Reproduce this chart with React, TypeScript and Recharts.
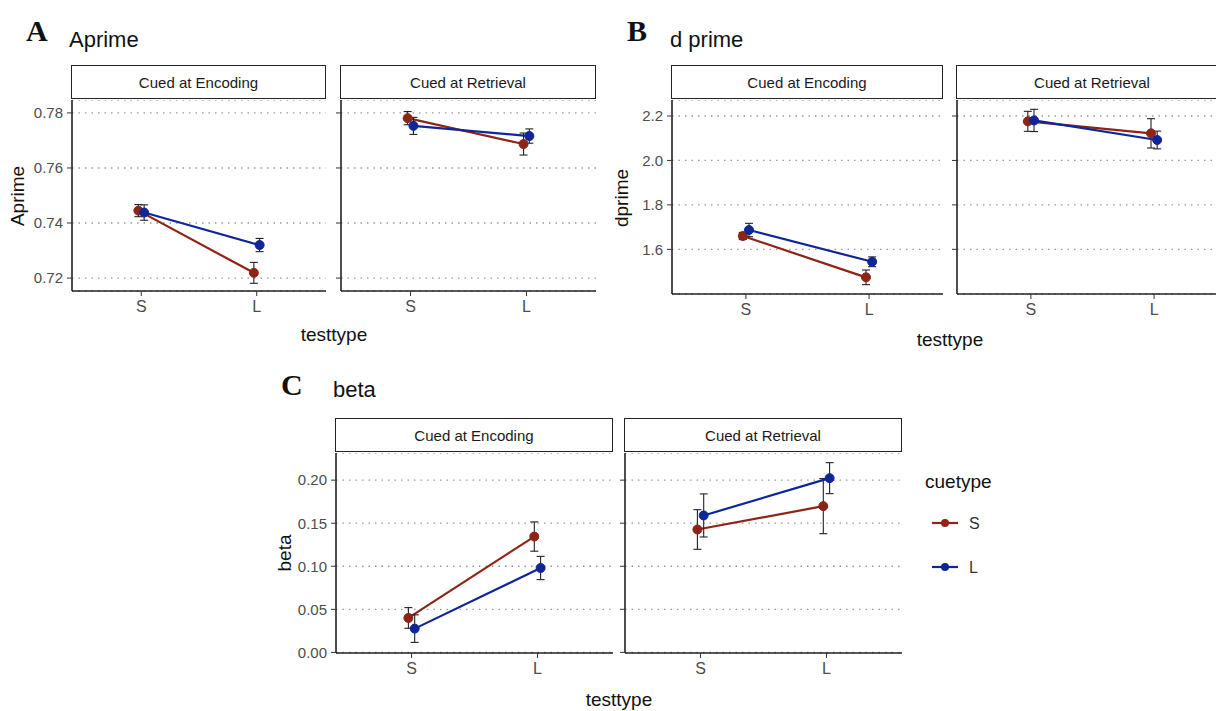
import { LineChart, Line, XAxis, YAxis, CartesianGrid, ErrorBar } from "recharts";

const testtypes = ["S", "L"];
const facetNames = ["Cued at Encoding", "Cued at Retrieval"];
const cuetypes = ["S", "L"];

// A: Aprime
const aprimeTicks = [0.72, 0.74, 0.76, 0.78];
const aprimeEncS = [0.7445, 0.7219];
const aprimeEncSErr = [0.0022, 0.0038];
const aprimeEncL = [0.7438, 0.732];
const aprimeEncLErr = [0.0028, 0.0024];
const aprimeRetS = [0.7781, 0.7687];
const aprimeRetSErr = [0.0024, 0.004];
const aprimeRetL = [0.7753, 0.7716];
const aprimeRetLErr = [0.0031, 0.0026];

// B: d prime
const dprimeTicks = [1.6, 1.8, 2.0, 2.2];
const dprimeEncS = [1.66, 1.474];
const dprimeEncSErr = [0.016, 0.033];
const dprimeEncL = [1.687, 1.544];
const dprimeEncLErr = [0.03, 0.022];
const dprimeRetS = [2.176, 2.122];
const dprimeRetSErr = [0.045, 0.066];
const dprimeRetL = [2.18, 2.092];
const dprimeRetLErr = [0.05, 0.04];

// C: beta
const betaTicks = [0, 0.05, 0.1, 0.15, 0.2];
const betaEncS = [0.04, 0.1345];
const betaEncSErr = [0.012, 0.017];
const betaEncL = [0.0276, 0.098];
const betaEncLErr = [0.016, 0.0135];
const betaRetS = [0.1427, 0.1698];
const betaRetSErr = [0.023, 0.032];
const betaRetL = [0.159, 0.2023];
const betaRetLErr = [0.025, 0.018];

const RED = "#8E2416";
const BLUE = "#0F2699";
const DODGE = 0.025;

const series = (means: number[], errs: number[], shift: number) =>
  testtypes.map((_, i) => ({ x: i + 1 + shift, y: means[i], err: errs[i] }));

type FacetProps = {
  left: number;
  top: number;
  width: number;
  height: number;
  domain: [number, number];
  ticks: number[];
  labels: boolean;
  fmt: (v: number) => string;
  s: number[];
  sErr: number[];
  l: number[];
  lErr: number[];
  strip: string;
};

const Facet = (p: FacetProps) => {
  const yw = p.labels ? 60 : 10;
  const xh = 36;
  return (
    <>
      <div
        style={{
          position: "absolute",
          left: p.left - 1,
          top: p.top - 35,
          width: p.width - 1,
          height: 32,
          border: "1.5px solid #222",
          display: "flex",
          alignItems: "center",
          justifyContent: "center",
          fontSize: 15,
          color: "#1a1a1a",
          background: "#fff",
        }}
      >
        {p.strip}
      </div>
      <div style={{ position: "absolute", left: p.left - yw, top: p.top }}>
        <LineChart
          width={yw + p.width}
          height={p.height + xh}
          margin={{ top: 0, right: 0, bottom: 0, left: 0 }}
        >
          <CartesianGrid
            vertical={false}
            stroke="#9a9a9a"
            strokeWidth={1.3}
            strokeDasharray="1.5 5"
          />
          <XAxis
            type="number"
            dataKey="x"
            domain={[0.4, 2.6]}
            ticks={[1, 2]}
            allowDataOverflow
            height={xh}
            tickSize={5}
            tickMargin={5}
            tickFormatter={(v: number) => testtypes[v - 1]}
            tick={{ fill: "#4D4D4D", fontSize: 16 }}
            tickLine={{ stroke: "#333" }}
            axisLine={{ stroke: "#222", strokeWidth: 1.6 }}
          />
          <YAxis
            type="number"
            domain={p.domain}
            ticks={p.ticks}
            allowDataOverflow
            width={yw}
            tickSize={5}
            tickMargin={4}
            tickFormatter={p.fmt}
            tick={p.labels ? { fill: "#4D4D4D", fontSize: 15 } : () => <g />}
            tickLine={{ stroke: "#333" }}
            axisLine={{ stroke: "#222", strokeWidth: 1.6 }}
          />
          <Line
            data={series(p.s, p.sErr, -DODGE)}
            dataKey="y"
            name={cuetypes[0]}
            stroke={RED}
            strokeWidth={2.2}
            dot={{ r: 4.5, fill: RED, stroke: RED, strokeWidth: 1 }}
            isAnimationActive={false}
          >
            <ErrorBar dataKey="err" width={4} stroke="#222" strokeWidth={1.1} />
          </Line>
          <Line
            data={series(p.l, p.lErr, DODGE)}
            dataKey="y"
            name={cuetypes[1]}
            stroke={BLUE}
            strokeWidth={2.2}
            dot={{ r: 4.5, fill: BLUE, stroke: BLUE, strokeWidth: 1 }}
            isAnimationActive={false}
          >
            <ErrorBar dataKey="err" width={4} stroke="#222" strokeWidth={1.1} />
          </Line>
        </LineChart>
      </div>
    </>
  );
};

const f2 = (v: number) => v.toFixed(2);
const f1 = (v: number) => v.toFixed(1);

export default function App() {
  return (
    <div
      style={{
        position: "absolute",
        left: 0,
        top: 0,
        width: 1216,
        height: 711,
        overflow: "hidden",
        background: "#fff",
        fontFamily: '"Liberation Sans", Arial, sans-serif',
      }}
    >
      {/* A */}
      <Facet left={72} top={100} width={254} height={191} domain={[0.7153, 0.7847]} ticks={aprimeTicks} labels fmt={f2}
        s={aprimeEncS} sErr={aprimeEncSErr} l={aprimeEncL} lErr={aprimeEncLErr} strip={facetNames[0]} />
      <Facet left={341} top={100} width={255} height={191} domain={[0.7153, 0.7847]} ticks={aprimeTicks} labels={false} fmt={f2}
        s={aprimeRetS} sErr={aprimeRetSErr} l={aprimeRetL} lErr={aprimeRetLErr} strip={facetNames[1]} />
      {/* B */}
      <Facet left={672} top={100} width={271} height={194} domain={[1.399, 2.272]} ticks={dprimeTicks} labels fmt={f1}
        s={dprimeEncS} sErr={dprimeEncSErr} l={dprimeEncL} lErr={dprimeEncLErr} strip={facetNames[0]} />
      <Facet left={957} top={100} width={271} height={194} domain={[1.399, 2.272]} ticks={dprimeTicks} labels={false} fmt={f1}
        s={dprimeRetS} sErr={dprimeRetSErr} l={dprimeRetL} lErr={dprimeRetLErr} strip={facetNames[1]} />
      {/* C */}
      <Facet left={336} top={453} width={277} height={200} domain={[-0.0007, 0.2315]} ticks={betaTicks} labels fmt={f2}
        s={betaEncS} sErr={betaEncSErr} l={betaEncL} lErr={betaEncLErr} strip={facetNames[0]} />
      <Facet left={625} top={453} width={277} height={200} domain={[-0.0007, 0.2315]} ticks={betaTicks} labels={false} fmt={f2}
        s={betaRetS} sErr={betaRetSErr} l={betaRetL} lErr={betaRetLErr} strip={facetNames[1]} />

      <svg width={1216} height={711} style={{ position: "absolute", left: 0, top: 0, pointerEvents: "none" }}>
        <g fontFamily='"Liberation Serif", "Times New Roman", serif' fontWeight="bold" fontSize={30} fill="#111">
          <text x={26} y={41}>A</text>
          <text x={627} y={41}>B</text>
          <text x={281} y={395}>C</text>
        </g>
        <g fontSize={22} fill="#111">
          <text x={69} y={47}>Aprime</text>
          <text x={670} y={47}>d prime</text>
          <text x={333} y={397}>beta</text>
        </g>
        <g fontSize={19} fill="#111" textAnchor="middle">
          <text x={334} y={341}>testtype</text>
          <text x={950} y={346}>testtype</text>
          <text x={619} y={706}>testtype</text>
          <text transform="translate(24,196) rotate(-90)">Aprime</text>
          <text transform="translate(628,198) rotate(-90)">dprime</text>
          <text transform="translate(291,553) rotate(-90)">beta</text>
        </g>
        {/* legend */}
        <text x={925} y={488} fontSize={19} fill="#111">cuetype</text>
        {cuetypes.map((c, i) => {
          const y = 523 + i * 44;
          const col = i === 0 ? RED : BLUE;
          return (
            <g key={c}>
              <line x1={932} x2={958} y1={y} y2={y} stroke={col} strokeWidth={2.2} />
              <circle cx={945} cy={y} r={4} fill={col} />
              <text x={969} y={y + 6} fontSize={16} fill="#333">{c}</text>
            </g>
          );
        })}
      </svg>
    </div>
  );
}
